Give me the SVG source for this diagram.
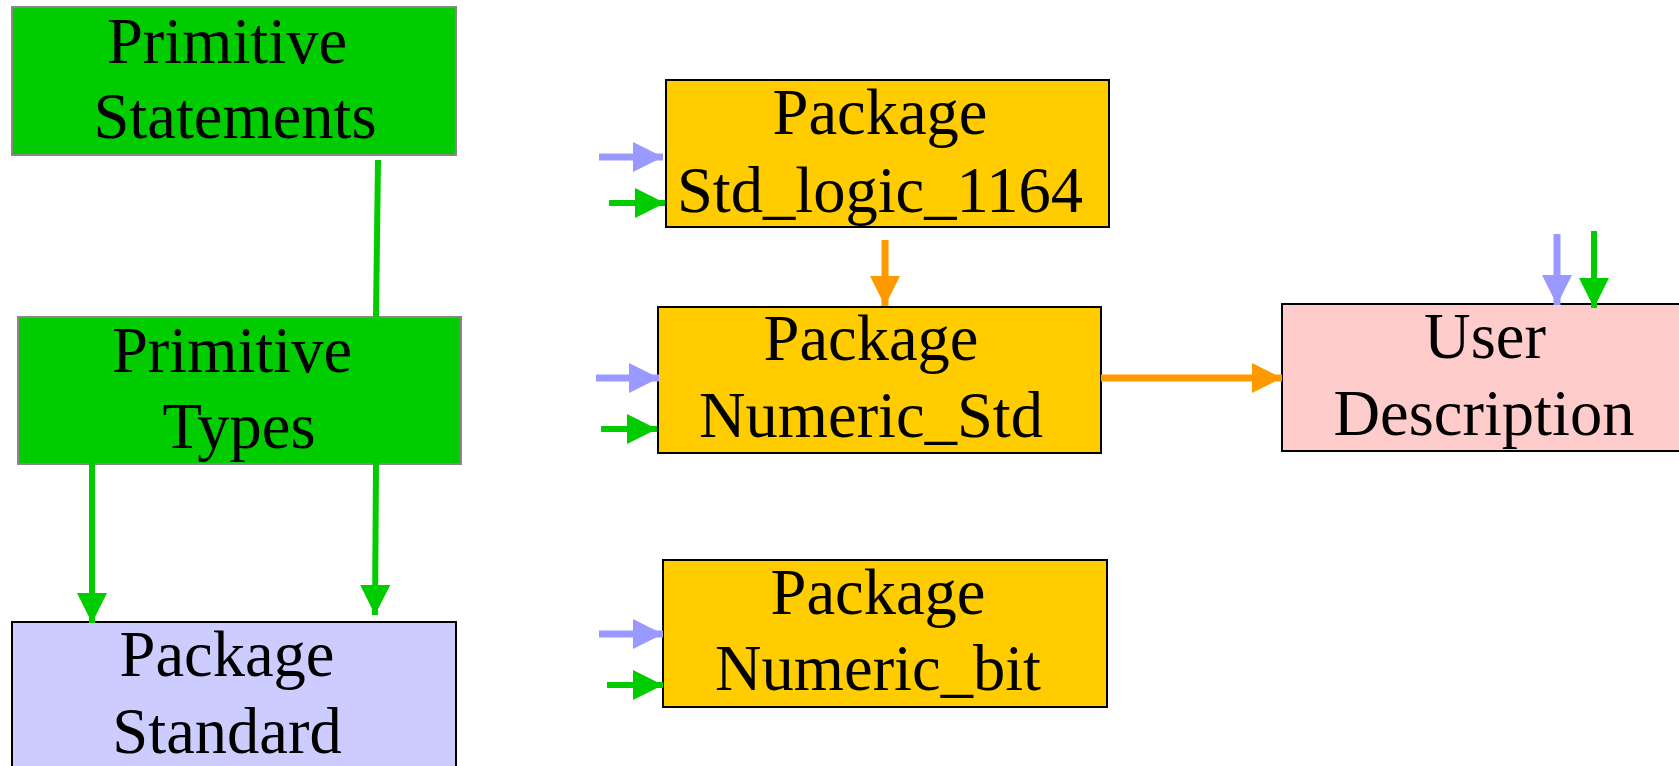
<svg xmlns="http://www.w3.org/2000/svg" width="1679" height="766" viewBox="0 0 1679 766">
<style>
.box{stroke:#000;stroke-width:2}
.gbox{fill:#00CC00;stroke:#888;stroke-width:2}
.yel{fill:#FFCC00}
.lav{fill:#CCCCFF}
.pink{fill:#FFCCCC}
text{font-family:"Liberation Serif","Times New Roman",serif;font-size:64.5px;fill:#000;text-anchor:middle}
.g{stroke:#00CC00;stroke-width:6;fill:none}
.b{stroke:#9999FF;stroke-width:7;fill:none}
.o{stroke:#FF9900;stroke-width:7;fill:none}
</style>
<defs>
<marker id="ag" viewBox="0 0 30 30" refX="30" refY="15" markerWidth="30" markerHeight="30" markerUnits="userSpaceOnUse" orient="auto"><path d="M0,0 L30,15 L0,30 z" fill="#00CC00"/></marker>
<marker id="ab" viewBox="0 0 30 30" refX="30" refY="15" markerWidth="30" markerHeight="30" markerUnits="userSpaceOnUse" orient="auto"><path d="M0,0 L30,15 L0,30 z" fill="#9999FF"/></marker>
<marker id="ao" viewBox="0 0 30 30" refX="30" refY="15" markerWidth="30" markerHeight="30" markerUnits="userSpaceOnUse" orient="auto"><path d="M0,0 L30,15 L0,30 z" fill="#FF9900"/></marker>
</defs>
<rect width="1679" height="766" fill="#fff"/>
<g id="prim-statements">
<rect class="gbox" x="12" y="7" width="444" height="148"/>
<text x="227" y="63">Primitive</text>
<text x="235" y="138">Statements</text>
</g>
<g id="prim-types">
<rect class="gbox" x="18" y="317" width="443" height="147"/>
<text x="232" y="372">Primitive</text>
<text x="239" y="448">Types</text>
</g>
<g id="pkg-standard">
<rect class="box lav" x="12" y="622" width="444" height="200"/>
<text x="227" y="676">Package</text>
<text x="227" y="753">Standard</text>
</g>
<g id="pkg-std-logic">
<rect class="box yel" x="666" y="80" width="443" height="147"/>
<text x="880" y="134">Package</text>
<text x="880" y="212">Std_logic_1164</text>
</g>
<g id="pkg-numeric-std">
<rect class="box yel" x="658" y="307" width="443" height="146"/>
<text x="871" y="360">Package</text>
<text x="871" y="437">Numeric_Std</text>
</g>
<g id="pkg-numeric-bit">
<rect class="box yel" x="663" y="560" width="444" height="147"/>
<text x="878" y="614">Package</text>
<text x="878" y="690">Numeric_bit</text>
</g>
<g id="user-desc">
<rect class="box pink" x="1282" y="304" width="420" height="147"/>
<text x="1485" y="358">User</text>
<text x="1484" y="435">Description</text>
</g>
<g id="connectors">
<line class="g" x1="378" y1="160" x2="376" y2="317"/>
<line class="g" x1="92" y1="463" x2="92" y2="623" marker-end="url(#ag)"/>
<line class="g" x1="376" y1="463" x2="375" y2="615" marker-end="url(#ag)"/>
<line class="b" x1="599" y1="157" x2="663" y2="157" marker-end="url(#ab)"/>
<line class="g" x1="609" y1="203" x2="665" y2="203" marker-end="url(#ag)"/>
<line class="o" x1="885" y1="240" x2="885" y2="306" marker-end="url(#ao)"/>
<line class="b" x1="596" y1="378" x2="659" y2="378" marker-end="url(#ab)"/>
<line class="g" x1="601" y1="429" x2="657" y2="429" marker-end="url(#ag)"/>
<line class="o" x1="1101" y1="378" x2="1282" y2="378" marker-end="url(#ao)"/>
<line class="b" x1="1557" y1="234" x2="1557" y2="305" marker-end="url(#ab)"/>
<line class="g" x1="1594" y1="231" x2="1594" y2="308" marker-end="url(#ag)"/>
<line class="b" x1="599" y1="634" x2="663" y2="634" marker-end="url(#ab)"/>
<line class="g" x1="607" y1="685" x2="663" y2="685" marker-end="url(#ag)"/>
</g>
</svg>
